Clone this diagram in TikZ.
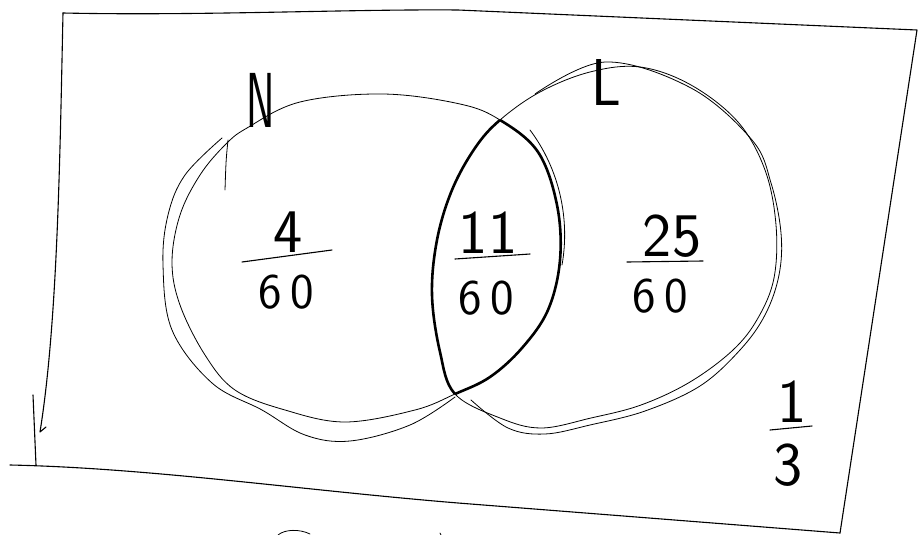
\documentclass[tikz,border=0pt]{standalone}
\begin{document}
\begin{tikzpicture}[x=1pt,y=-1pt,line cap=round,line join=round,
  pen/.style={line width=1.1pt},
  thin pen/.style={line width=0.8pt},
  lens/.style={line width=2.6pt},
  numtop/.style={font=\sffamily\fontsize{62}{66}\selectfont,inner sep=0pt},
  numbot/.style={font=\sffamily\fontsize{50}{56}\selectfont,inner sep=0pt},
  setlbl/.style={font=\sffamily\fontsize{78}{80}\selectfont,inner sep=0pt}]
\useasboundingbox (0,0) rectangle (918,535);
\def\leftset{plot[smooth cycle,tension=0.6] coordinates {(247,128) (300,102) (383,94) (460,104) (500,120) (538,152) (557,205) (560,260) (548,310) (522,348) (490,377) (455,394) (415,410) (345,422) (285,410) (235,390) (205,355) (180,305) (172,262) (180,215) (200,175) (225,145)}}
\def\rightset{plot[smooth cycle,tension=0.6] coordinates {(455,394) (440,352) (432,295) (437,240) (452,190) (475,148) (500,120) (540,92) (590,72) (640,67) (691,85) (738,122) (765,170) (776,225) (774,278) (758,318) (733,350) (690,382) (641,405) (591,418) (541,428) (500,418)}}
% frame
\draw[pen] (63,13) .. controls (200,16) and (350,9) .. (458,10) -- (917,30) -- (840,533);
\draw[pen] (10,465) .. controls (150,468) and (300,490) .. (458,503) -- (840,533);
\draw[pen] (63,13) .. controls (60,150) and (58,320) .. (40,432) -- (46,427);
\draw[pen] (33,395) -- (36,465);
\draw[thin pen] (278,535) .. controls (285,529) and (300,529) .. (310,534);
\draw[thin pen] (440,533) -- (441,535);
% circle N
\draw[thin pen] \leftset;
\draw[thin pen] plot[smooth,tension=0.6] coordinates {(222,138) (185,175) (168,215) (163,265) (172,330) (212,383) (262,410) (305,435) (350,441) (410,425) (455,397)};
\draw[thin pen] (228,140) .. controls (226,160) .. (225,190);
% circle L
\draw[thin pen] \rightset;
\draw[thin pen] plot[smooth,tension=0.6] coordinates {(535,94) (605,62) (691,88) (752,140) (771,183) (781,233) (779,275) (765,315) (740,350) (700,386) (645,411) (590,425) (545,434) (508,428) (471,400)};
\draw[thin pen] (530,130) .. controls (560,170) and (570,220) .. (562,265);
% lens
\begin{scope}
  \clip \leftset;
  \draw[lens] \rightset;
\end{scope}
\begin{scope}
  \clip \rightset;
  \draw[lens] \leftset;
\end{scope}
% set labels
\node[setlbl] (N) at (261,100) {\scalebox{0.55}[1]{N}};
\node[setlbl] (L) at (606,82) {\scalebox{0.75}[0.85]{L}};
% fractions
\node[numtop] (a1) at (288,232) {4};
\draw[pen] (242,262) -- (332,250);
\node[numbot] (a2) at (286,292) {6\,0};
\node[numtop] (b1) at (488,233) {11};
\draw[pen] (455,259) -- (530,254);
\node[numbot] (b2) at (486,298) {6\,0};
\node[numtop] (c1) at (672,236) {25};
\draw[pen] (627,262) -- (703,261);
\node[numbot] (c2) at (660,296) {6\,0};
\node[numtop] (d1) at (792,402) {1};
\draw[pen] (770,430) -- (812,426);
\node[numtop] (d2) at (788,465) {3};
\end{tikzpicture}
\end{document}
